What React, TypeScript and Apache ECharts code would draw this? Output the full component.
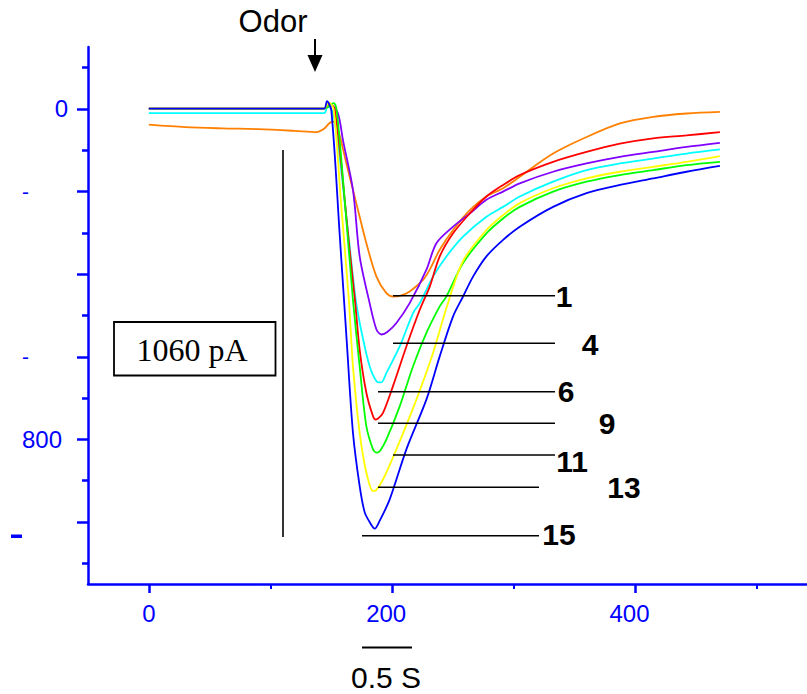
import React, { useEffect, useRef } from "react";
import * as echarts from "echarts";

// ---- axis ticks / labels ----
const xMajorTicks = [0, 200, 400];
const xMinorTicks = [100, 300, 500];
const yMajorTicks = [0, 200, 400, 600, 800, 1000];
const yMinorTicks = [-100, 100, 300, 500, 700, 900, 1100];
const yLabelValues = [0, 200, 600, 800];

// ---- traces: [time, current] (current axis inverted) ----
const trace1: [number, number][] = [
  [0, 38], [30, 44], [60, 47], [90, 49], [120, 53], [138, 56], [144, 48], [148.6, 34], [152, 31],
  [156, 55], [162.4, 132], [167.8, 196], [173.3, 261], [178.8, 325], [187.1, 406], [195.3, 446],
  [200.7, 454], [207, 452], [214.4, 442], [225.4, 414], [230.9, 389], [239.1, 341], [250.1, 293],
  [263.8, 245], [277.5, 212], [291.2, 192], [304.9, 164], [332.3, 108], [359.8, 68], [387.2, 35],
  [414.6, 19], [442, 11], [469.4, 7],
];
const trace4: [number, number][] = [
  [0, -1], [144, -1], [150, -8], [155.5, 11], [159.6, 76], [167.8, 196], [173.3, 357], [181.5, 470],
  [187.1, 534], [191.2, 546], [196, 540], [203.5, 518], [214.4, 470], [228.2, 389], [236.4, 325],
  [250.1, 285], [263.8, 253], [277.5, 220], [291.2, 200], [304.9, 180], [332.3, 152], [359.8, 132],
  [387.2, 116], [414.6, 104], [442, 92], [469.4, 82],
];
const trace6: [number, number][] = [
  [0, 10], [144, 10], [147, -8], [151.4, 10], [156.9, 117], [161, 226], [165.1, 334], [170.1, 462],
  [175, 542], [181.5, 623], [187.1, 659], [191, 662], [195.3, 639], [206.2, 575], [217.2, 494],
  [222.7, 470], [233.6, 406], [244.6, 357], [258.3, 309], [277.5, 261], [291.2, 237], [304.9, 212],
  [332.3, 176], [359.8, 148], [387.2, 132], [414.6, 120], [442, 108], [469.4, 98],
];
const trace9: [number, number][] = [
  [0, -1], [144, -1], [149, -12], [152.7, 0], [157, 100], [161, 220], [165, 340], [169.4, 462],
  [173.3, 583], [178.8, 687], [184.3, 744], [186.5, 752], [189, 748], [192.5, 736], [200.7, 671],
  [211.7, 575], [222.7, 486], [230.9, 430], [239.1, 357], [250.1, 301], [263.8, 253], [277.5, 212],
  [291.2, 184], [304.9, 160], [332.3, 128], [359.8, 104], [387.2, 84], [414.6, 71], [442, 64],
  [469.4, 56],
];
const trace11: [number, number][] = [
  [0, -1], [144, -1], [151.9, -14], [154.5, 5], [161, 220], [167.8, 462], [173.3, 623], [178.8, 768],
  [184.3, 824], [187.1, 832], [190, 828], [195.3, 800], [206.2, 720], [217.2, 623], [228.2, 542],
  [239.1, 478], [244.6, 454], [258.3, 373], [277.5, 301], [291.2, 265], [304.9, 237], [332.3, 200],
  [359.8, 176], [387.2, 160], [414.6, 148], [442, 136], [469.4, 128],
];
const trace13: [number, number][] = [
  [0, -1], [144, -1], [148, -16], [152, 2], [157.8, 220], [164.4, 462], [167.8, 623], [173.3, 784],
  [178.8, 880], [184.3, 925], [187, 922], [192.5, 897], [203.5, 824], [220, 703], [233.6, 591],
  [244.6, 482], [258.3, 368], [277.5, 293], [291.2, 257], [304.9, 228], [332.3, 192], [359.8, 168],
  [387.2, 152], [414.6, 140], [442, 128], [469.4, 114],
];
const trace15: [number, number][] = [
  [0, -1], [144, -1], [146.4, -19], [150, 3], [156.9, 305], [162.6, 559], [167.8, 784], [173.3, 913],
  [177.4, 976], [181.5, 1000], [185.7, 1016], [189.6, 998], [198, 945], [211.7, 824], [228.2, 703],
  [239.1, 599], [250.1, 502], [258.3, 454], [266.5, 406], [277.5, 357], [291.2, 317], [304.9, 285],
  [332.3, 237], [359.8, 204], [387.2, 184], [414.6, 168], [442, 152], [469.4, 138],
];

const traceNames = ["1", "4", "6", "9", "11", "13", "15"];
const traceColors = ["#FF8000", "#8000FF", "#00FFFF", "#FF0000", "#00FF00", "#FFFF00", "#0000FF"];
const traces = [trace1, trace4, trace6, trace9, trace11, trace13, trace15];

const SANS = "'Liberation Sans', Arial, sans-serif";
const SERIF = "'Liberation Serif', 'Times New Roman', serif";
const AXIS_BLUE = "#0000FF";
const TICK_FONT = 24;

export default function App() {
  const ref = useRef<HTMLDivElement>(null);
  useEffect(() => {
    if (!ref.current) return;
    const chart = echarts.init(ref.current, undefined, { renderer: "svg" });

    const annot = [
      { label: "1", y: 295.7, x1: 393, x2: 555, lx: 564, ly: 296 },
      { label: "4", y: 343.3, x1: 393, x2: 555, lx: 590, ly: 344 },
      { label: "6", y: 391.7, x1: 378, x2: 555, lx: 566, ly: 391 },
      { label: "9", y: 423.3, x1: 378, x2: 555, lx: 607, ly: 423 },
      { label: "11", y: 455, x1: 393, x2: 555, lx: 572, ly: 461 },
      { label: "13", y: 487.3, x1: 378, x2: 539, lx: 624, ly: 487 },
      { label: "15", y: 535.7, x1: 362, x2: 539, lx: 559, ly: 534 },
    ];

    const graphics: any[] = [];
    annot.forEach((a) => {
      graphics.push({
        type: "line", z: 100,
        shape: { x1: a.x1, y1: a.y, x2: a.x2, y2: a.y },
        style: { stroke: "#000", lineWidth: 1.6 },
      });
      graphics.push({
        type: "text", z: 100, x: a.lx, y: a.ly,
        style: {
          text: a.label, fill: "#000", fontSize: 30, fontWeight: "bold", fontFamily: SANS,
          align: "center", verticalAlign: "middle",
        },
      });
    });
    graphics.push(
      { type: "text", z: 100, x: 273, y: 21, style: { text: "Odor", fill: "#000", fontSize: 31, fontFamily: SANS, align: "center", verticalAlign: "middle" } },
      { type: "line", z: 100, shape: { x1: 315, y1: 39, x2: 315, y2: 58 }, style: { stroke: "#000", lineWidth: 2 } },
      { type: "polygon", z: 100, shape: { points: [[307.5, 55], [322.5, 55], [315, 72]] }, style: { fill: "#000" } },
      { type: "line", z: 100, shape: { x1: 283, y1: 150, x2: 283, y2: 537 }, style: { stroke: "#000", lineWidth: 1.6 } },
      { type: "rect", z: 100, shape: { x: 114, y: 322, width: 161.5, height: 53.5 }, style: { fill: "#fff", stroke: "#000", lineWidth: 1.8 } },
      { type: "text", z: 101, x: 192, y: 350, style: { text: "1060 pA", fill: "#000", fontSize: 32, fontFamily: SERIF, align: "center", verticalAlign: "middle" } },
      { type: "line", z: 100, shape: { x1: 362, y1: 647.5, x2: 412, y2: 647.5 }, style: { stroke: "#000", lineWidth: 2 } },
      { type: "text", z: 100, x: 386, y: 677, style: { text: "0.5 S", fill: "#000", fontSize: 30, fontFamily: SANS, align: "center", verticalAlign: "middle" } },
      { type: "rect", z: 100, shape: { x: 11, y: 534.5, width: 11, height: 3.5 }, style: { fill: AXIS_BLUE } },
    );

    chart.setOption({
      animation: false,
      backgroundColor: "#fff",
      grid: { left: 88, right: 0, top: 47, bottom: 110, containLabel: false },
      xAxis: [
        {
          type: "value", min: -50, max: 541,
          axisLine: { show: true, onZero: false, lineStyle: { color: AXIS_BLUE, width: 2.5 } },
          axisTick: { show: true, customValues: xMajorTicks, length: 9, lineStyle: { color: AXIS_BLUE, width: 2.5 } },
          axisLabel: {
            show: true, customValues: xMajorTicks, color: AXIS_BLUE, fontSize: TICK_FONT, fontFamily: SANS, margin: 17,
            formatter: (v: number) => (v === 0 ? "0" : `{s|${v}}`),
            rich: { s: { color: AXIS_BLUE, fontSize: TICK_FONT, fontFamily: SANS, padding: [0, 12, 0, 0] } },
          },
          splitLine: { show: false },
        },
        {
          type: "value", min: -50, max: 541, position: "bottom",
          axisLine: { show: false, onZero: false },
          axisTick: { show: true, customValues: xMinorTicks, length: 5, lineStyle: { color: AXIS_BLUE, width: 2 } },
          axisLabel: { show: false },
          splitLine: { show: false },
        },
      ],
      yAxis: [
        {
          type: "value", min: -150, max: 1150, inverse: true,
          axisLine: { show: true, onZero: false, lineStyle: { color: AXIS_BLUE, width: 2.5 } },
          axisTick: { show: true, customValues: yMajorTicks, length: 11, lineStyle: { color: AXIS_BLUE, width: 2.5 } },
          axisLabel: {
            show: true, customValues: yLabelValues, color: AXIS_BLUE, fontSize: TICK_FONT, fontFamily: SANS, margin: 20,
            formatter: (v: number) => (v === 200 || v === 600 ? "{d|-}" : v === 800 ? "{e|800}" : String(v)),
            rich: {
              d: { color: AXIS_BLUE, fontSize: 21, fontFamily: SANS, padding: [0, 39, 0, 0] },
              e: { color: AXIS_BLUE, fontSize: TICK_FONT, fontFamily: SANS, padding: [0, 6, 0, 0] },
            },
          },
          splitLine: { show: false },
        },
        {
          type: "value", min: -150, max: 1150, inverse: true, position: "left",
          axisLine: { show: false, onZero: false },
          axisTick: { show: true, customValues: yMinorTicks, length: 6, lineStyle: { color: AXIS_BLUE, width: 2.5 } },
          axisLabel: { show: false },
          splitLine: { show: false },
        },
      ],
      series: traces.map((d, i) => ({
        name: traceNames[i],
        type: "line",
        data: d,
        showSymbol: false,
        symbol: "none",
        smooth: 0.3,
        lineStyle: { color: traceColors[i], width: 1.8 },
        z: 2 + i,
      })),
      graphic: graphics,
    });
    return () => chart.dispose();
  }, []);
  return <div ref={ref} style={{ position: "fixed", left: 0, top: 0, width: 807, height: 694 }} />;
}
